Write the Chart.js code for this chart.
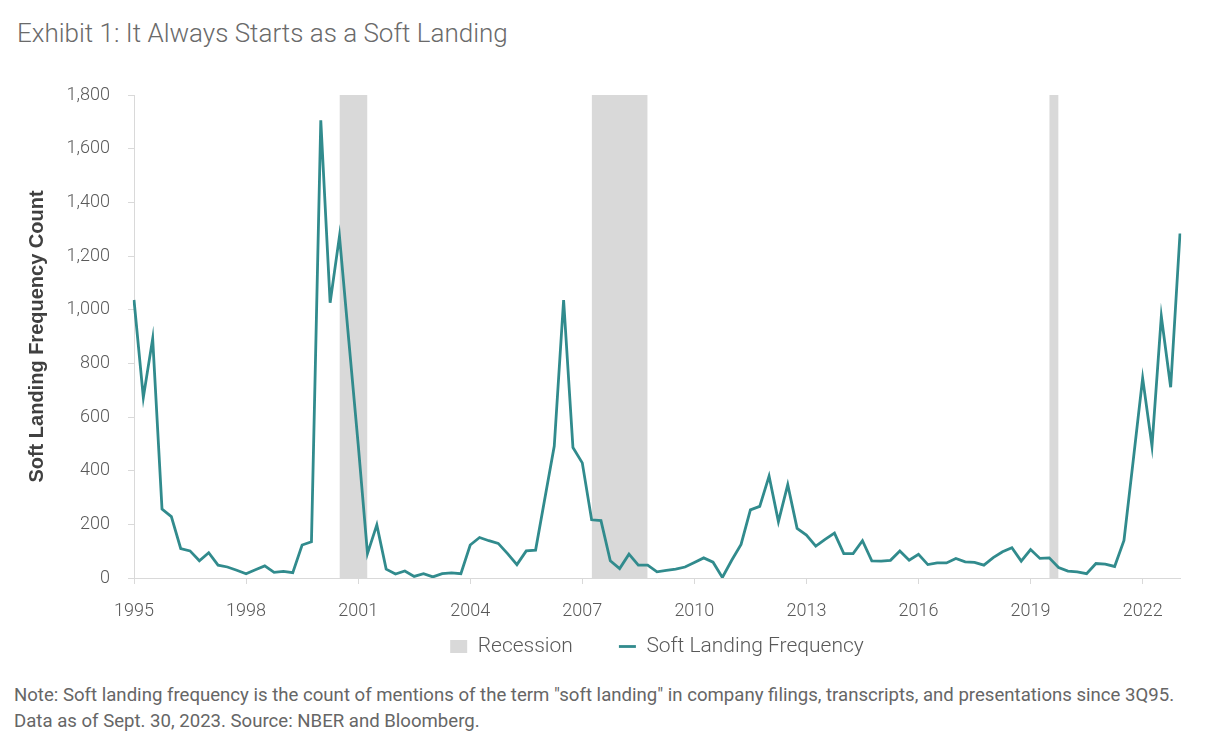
<!DOCTYPE html>
<html>
<head>
<meta charset="utf-8">
<script src="https://cdn.jsdelivr.net/npm/chart.js@4.4.0/dist/chart.umd.min.js"></script>
<style>
  html, body { margin: 0; padding: 0; background: #ffffff; }
  body { width: 1210px; height: 752px; position: relative; overflow: hidden; }
  #title { position: absolute; left: 17px; top: 18px; font-family: Roboto, "Liberation Sans", sans-serif; font-weight: 300; font-size: 26px; color: #6a6a6a; white-space: nowrap; }
  #wrap { position: absolute; left: 0; top: 0; width: 1210px; height: 680px; }
  #note { position: absolute; left: 14px; top: 682px; font-family: Roboto, "Liberation Sans", sans-serif; font-size: 18.6px; line-height: 26px; color: #666666; white-space: nowrap; }
</style>
</head>
<body>
<div id="title">Exhibit 1: It Always Starts as a Soft Landing</div>
<div id="wrap"><canvas id="c"></canvas></div>
<div id="note">Note: Soft landing frequency is the count of mentions of the term "soft landing" in company filings, transcripts, and presentations since 3Q95.<br>Data as of Sept. 30, 2023. Source: NBER and Bloomberg.</div>
<script>
// Quarterly categories, 3Q95 .. 3Q23
const startYear = 1995, startQuarter = 3, endYear = 2023, endQuarter = 3;
const quarters = [];
for (let y = startYear, q = startQuarter; y < endYear || (y === endYear && q <= endQuarter); ) {
  quarters.push(q + 'Q' + String(y).slice(2));
  q++; if (q > 4) { q = 1; y++; }
}

// Year labels shown on the x axis (at the 3Q of each labelled year)
const tickYears = ['1995','1998','2001','2004','2007','2010','2013','2016','2019','2022'];

// Soft landing frequency (count of mentions), one value per quarter from 3Q95
const softLanding = [
  1036, 673, 892, 257, 229, 110, 101, 64, 94, 48,
  41, 29, 16, 31, 45, 21, 25, 20, 123, 135,
  1706, 1026, 1274, 885, 500, 91, 198, 33, 15, 26,
  6, 16, 4, 16, 19, 16, 123, 151, 139, 129,
  91, 50, 101, 104, 298, 492, 1036, 486, 429, 217,
  214, 64, 35, 89, 48, 48, 23, 28, 33, 41,
  58, 75, 59, 2, 66, 125, 254, 267, 380, 210,
  348, 185, 160, 119, 144, 167, 91, 91, 139, 64,
  63, 66, 101, 66, 88, 50, 56, 56, 73, 60,
  58, 48, 76, 98, 113, 63, 106, 73, 75, 39,
  26, 23, 16, 54, 52, 43, 140, 440, 745, 492,
  975, 711, 1284
];

// NBER recessions (first and last quarter shaded)
const recessionStart = ['1Q01', '4Q07', '1Q20'];
const recessionEnd   = ['4Q01', '2Q09', '2Q20'];
const recessionTop = 1800;

const recession = quarters.map(function (q, i) {
  for (let k = 0; k < recessionStart.length; k++) {
    const a = quarters.indexOf(recessionStart[k]);
    const b = quarters.indexOf(recessionEnd[k]);
    if (i >= a && i <= b) return recessionTop;
  }
  return null;
});

const teal = '#318b8d';
const grey = '#d9d9d9';
const axisGrey = '#d9d9d9';
const fontFamily = 'Roboto, "Liberation Sans", sans-serif';

function yearOf(lab) {
  const yy = parseInt(lab.slice(2), 10);
  return String(yy > 50 ? 1900 + yy : 2000 + yy);
}

new Chart(document.getElementById('c'), {
  type: 'line',
  data: {
    labels: quarters,
    datasets: [
      {
        label: 'Soft Landing Frequency',
        data: softLanding,
        borderColor: teal,
        backgroundColor: teal,
        borderWidth: 2.8,
        pointRadius: 0,
        tension: 0,
        fill: false,
        order: 0
      },
      {
        label: 'Recession',
        data: recession,
        borderWidth: 0,
        borderColor: 'rgba(0,0,0,0)',
        backgroundColor: grey,
        pointRadius: 0,
        fill: 'origin',
        spanGaps: false,
        order: 1
      }
    ]
  },
  options: {
    responsive: true,
    maintainAspectRatio: false,
    animation: false,
    layout: { padding: { top: 95, right: 30, bottom: 13, left: 0 } },
    plugins: {
      tooltip: { enabled: false },
      legend: {
        position: 'bottom',
        fullSize: false,
        labels: {
          usePointStyle: true,
          pointStyleWidth: 17,
          boxHeight: 13,
          padding: 46,
          color: '#595959',
          font: { family: fontFamily, size: 21, weight: 300 },
          generateLabels: function () {
            return [
              { text: 'Recession', fillStyle: grey, strokeStyle: grey, lineWidth: 0, pointStyle: 'rect', datasetIndex: 1, hidden: false, fontColor: '#595959' },
              { text: 'Soft Landing Frequency', fillStyle: teal, strokeStyle: teal, lineWidth: 2.8, pointStyle: 'line', datasetIndex: 0, hidden: false, fontColor: '#595959' }
            ];
          }
        }
      }
    },
    scales: {
      x: {
        offset: false,
        afterFit: function (s) { s.height = 12; },
        border: { display: true, color: axisGrey, width: 1 },
        grid: { display: true, drawOnChartArea: false, drawTicks: true, tickLength: 6, color: axisGrey },
        ticks: {
          autoSkip: false,
          maxRotation: 0,
          mirror: true,
          padding: -44,
          color: '#595959',
          font: { family: fontFamily, size: 18, weight: 300 },
          callback: function (v, i) {
            const lab = quarters[i];
            const full = yearOf(lab);
            if (lab.charAt(0) === '3' && tickYears.indexOf(full) >= 0) return full;
            return null;
          }
        }
      },
      y: {
        min: 0,
        max: 1800,
        afterFit: function (s) { s.width = 134; },
        border: { display: true, color: axisGrey, width: 1 },
        grid: { display: true, drawOnChartArea: false, drawTicks: true, tickLength: 6, color: axisGrey },
        ticks: {
          stepSize: 200,
          padding: 18,
          color: '#595959',
          font: { family: fontFamily, size: 18, weight: 300 },
          callback: function (v) { return v.toLocaleString('en-US'); }
        },
        title: {
          display: true,
          text: 'Soft Landing Frequency Count',
          color: '#404040',
          padding: { top: 25, bottom: 0 },
          font: { family: '"Liberation Sans", Arial, sans-serif', size: 20, weight: 'bold' }
        }
      }
    }
  }
});
</script>
</body>
</html>
